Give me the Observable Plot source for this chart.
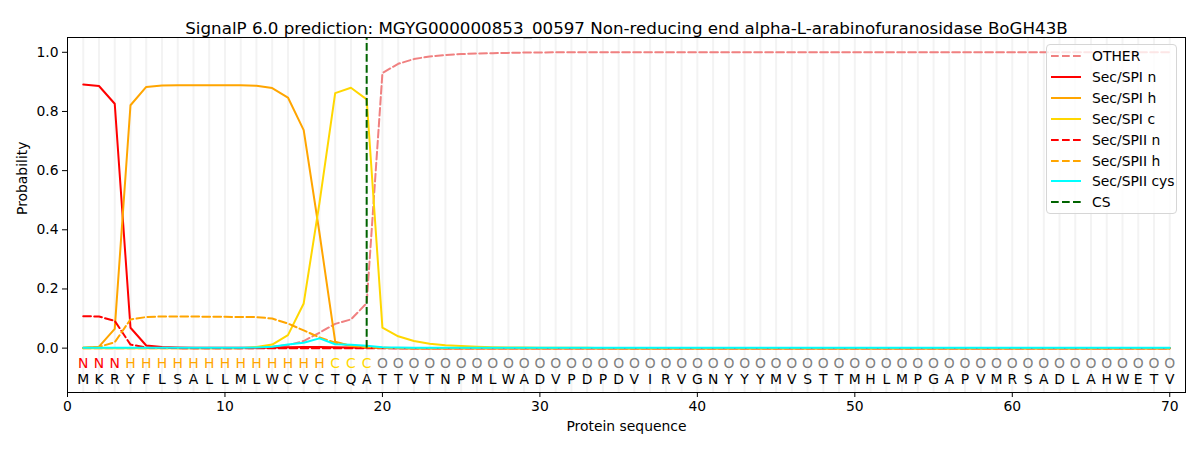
<!DOCTYPE html>
<html>
<head>
<meta charset="utf-8">
<script src="https://cdn.jsdelivr.net/npm/d3@7"></script>
<script src="https://cdn.jsdelivr.net/npm/@observablehq/plot@0.6"></script>
<style>
  body { margin: 0; background: #fff; font-family: "DejaVu Sans", sans-serif; }
  #wrap { position: relative; width: 1200px; height: 450px; }
  #legend {
    position: absolute; left: 1046px; top: 44px; width: 131px; height: 170px;
    border: 1px solid #d6d6d6; border-radius: 4px; background: rgba(255,255,255,0.8);
    box-sizing: border-box; font-size: 13.9px; color: #000;
  }
  #legend .row { position: absolute; left: 0; height: 20px; display: flex; align-items: center; }
  #legend svg { margin-left: 4px; margin-right: 11px; }
</style>
</head>
<body>
<div id="wrap">
  <div id="chart"></div>
  <div id="legend"></div>
</div>
<script>
const title = "SignalP 6.0 prediction: MGYG000000853_00597 Non-reducing end alpha-L-arabinofuranosidase BoGH43B";
const sequence = "MKRYFLSALLMLWCVCTQATTVTNPMLWADVPDPDVIRVGNYYYMVSTTMHLMPGAPVMRSADLAHWETV".split("");
const regions = "NNNHHHHHHHHHHHHHCCCOOOOOOOOOOOOOOOOOOOOOOOOOOOOOOOOOOOOOOOOOOOOOOOOOOO".split("");
const positions = sequence.map((d, i) => i + 1);
const regionColors = {N: "red", H: "orange", C: "gold", O: "gray"};

const other = [0,0,0,0,0,0,0,0,0,0,0,0,0.005,0.01,0.024,0.052,0.082,0.097,0.152,0.93,
  0.961,0.977,0.986,0.991,0.994,0.996,0.997,0.998,0.999,0.999,
  1,1,1,1,1,1,1,1,1,1,1,1,1,1,1,1,1,1,1,1,
  1,1,1,1,1,1,1,1,1,1,1,1,1,1,1,1,1,1,1,1];
const spiN = [0.891,0.886,0.826,0.069,0.009,0.004,0.002,0.001,0.001,0.001,0.001,0.001,0.002,0.003,0.004,0.004,0.003,0.002,0.001,0,
  0,0,0,0,0,0,0,0,0,0,0,0,0,0,0,0,0,0,0,0,
  0,0,0,0,0,0,0,0,0,0,0,0,0,0,0,0,0,0,0,0,0,0,0,0,0,0,0,0,0,0];
const spiH = [0.001,0.005,0.065,0.821,0.883,0.888,0.889,0.889,0.889,0.889,0.889,0.887,0.879,0.847,0.737,0.39,0.022,0.007,0.002,0.001,
  0,0,0,0,0,0,0,0,0,0,0,0,0,0,0,0,0,0,0,0,
  0,0,0,0,0,0,0,0,0,0,0,0,0,0,0,0,0,0,0,0,0,0,0,0,0,0,0,0,0,0];
const spiC = [0,0,0,0,0,0,0,0,0,0,0,0.004,0.012,0.044,0.151,0.49,0.862,0.88,0.841,0.069,
  0.04,0.024,0.015,0.01,0.007,0.005,0.003,0.002,0.002,0.001,
  0.001,0.001,0.001,0,0,0,0,0,0,0,0,0,0,0,0,0,0,0,0,0,
  0,0,0,0,0,0,0,0,0,0,0,0,0,0,0,0,0,0,0,0];
const spiiN = [0.108,0.107,0.092,0.012,0.002,0.001,0,0,0,0,0,0,0,0,0,0,0,0,0,0,
  0,0,0,0,0,0,0,0,0,0,0,0,0,0,0,0,0,0,0,0,
  0,0,0,0,0,0,0,0,0,0,0,0,0,0,0,0,0,0,0,0,0,0,0,0,0,0,0,0,0,0];
const spiiH = [0.001,0.004,0.02,0.097,0.105,0.107,0.107,0.107,0.106,0.106,0.105,0.105,0.1,0.083,0.06,0.036,0.018,0.008,0.003,0.001,
  0,0,0,0,0,0,0,0,0,0,0,0,0,0,0,0,0,0,0,0,
  0,0,0,0,0,0,0,0,0,0,0,0,0,0,0,0,0,0,0,0,0,0,0,0,0,0,0,0,0,0];
const spiiCys = [0.001,0.001,0.001,0.001,0.001,0.001,0.001,0.001,0.001,0.001,0.001,0.002,0.005,0.012,0.018,0.033,0.013,0.011,0.008,0.003,
  0.002,0.001,0.001,0.001,0.001,0.001,0.001,0.001,0.001,0.001,
  0.001,0.001,0.001,0.001,0.001,0.001,0.001,0.001,0.001,0.001,0.001,0.001,0.001,0.001,0.001,0.001,0.001,0.001,0.001,0.001,
  0.001,0.001,0.001,0.001,0.001,0.001,0.001,0.001,0.001,0.001,0.001,0.001,0.001,0.001,0.001,0.001,0.001,0.001,0.001,0.001];
const cleavageSite = 19;

const seriesNames = ["OTHER", "Sec/SPI n", "Sec/SPI h", "Sec/SPI c", "Sec/SPII n", "Sec/SPII h", "Sec/SPII cys"];
const seriesValues = [other, spiN, spiH, spiC, spiiN, spiiH, spiiCys];
const seriesColors = ["#f08080", "red", "orange", "gold", "red", "orange", "cyan"];
const seriesDashed = [true, false, false, false, true, true, false];
const yTicks = [0, 0.2, 0.4, 0.6, 0.8, 1.0];
const xTicks = [0, 10, 20, 30, 40, 50, 60, 70];

const dash = "7.7,3.3";
const residues = positions.map((p, i) => ({pos: p, aa: sequence[i], region: regions[i]}));

const lines = seriesValues.map((vals, k) =>
  Plot.line(positions, {
    x: d => d,
    y: (d, i) => vals[i],
    stroke: seriesColors[k],
    strokeWidth: 2,
    strokeDasharray: seriesDashed[k] ? dash : null
  })
);

const chart = Plot.plot({
  width: 1200,
  height: 450,
  marginLeft: 67,
  marginRight: 15,
  marginTop: 37,
  marginBottom: 58,
  style: {fontFamily: "DejaVu Sans", fontSize: "13.9px", color: "black", background: "white"},
  x: {domain: [0, 71]},
  y: {domain: [-0.15, 1.05]},
  color: {type: "identity"},
  marks: [
    Plot.ruleX(positions, {x: d => d, stroke: "#f3f3f3", strokeWidth: 2}),
    ...lines,
    Plot.ruleX([cleavageSite], {x: d => d, y1: 0, y2: 1.05, stroke: "darkgreen", strokeWidth: 2, strokeDasharray: dash}),
    Plot.text(residues, {x: "pos", y: -0.052, text: "region", fill: d => regionColors[d.region], fontSize: 13.9}),
    Plot.text(residues, {x: "pos", y: -0.107, text: "aa", fill: "black", fontSize: 13.9}),
    Plot.frame({stroke: "black"}),
    Plot.axisY(yTicks, {tickSize: 5, tickPadding: 4, tickFormat: d3.format(".1f"), label: null, fontSize: 13.9}),
    Plot.axisX(xTicks, {tickSize: 5, tickPadding: 4, label: null, fontSize: 13.9}),
    Plot.text([title], {frameAnchor: "top", dy: -15, fontSize: 16.7}),
    Plot.text(["Probability"], {frameAnchor: "left", rotate: -90, dx: -45, fontSize: 13.9}),
    Plot.text(["Protein sequence"], {frameAnchor: "bottom", dy: 38, fontSize: 13.9})
  ]
});
document.getElementById("chart").append(chart);

// legend
const legendNames = [...seriesNames, "CS"];
const legendColors = [...seriesColors, "darkgreen"];
const legendDashed = [...seriesDashed, true];
const legend = d3.select("#legend");
legendNames.forEach((name, k) => {
  const row = legend.append("div").attr("class", "row").style("top", (1 + k * 20.9) + "px");
  const svg = row.append("svg").attr("width", 30).attr("height", 6);
  svg.append("line").attr("x1", 0).attr("x2", 30).attr("y1", 3).attr("y2", 3)
    .attr("stroke", legendColors[k]).attr("stroke-width", 2)
    .attr("stroke-dasharray", legendDashed[k] ? dash : null);
  row.append("span").text(name);
});
</script>
</body>
</html>
